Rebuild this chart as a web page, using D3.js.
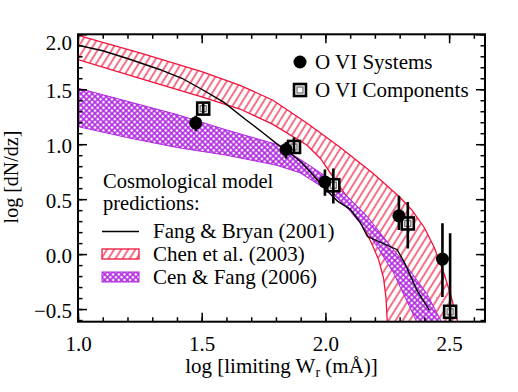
<!DOCTYPE html>
<html>
<head>
<meta charset="utf-8">
<script src="https://cdn.jsdelivr.net/npm/d3@7"></script>
<style>
  body { margin: 0; background: #fff; }
  text { font-family: "Liberation Serif", "Times New Roman", serif; fill: #000; }
</style>
</head>
<body>
<div id="chart"></div>
<script>
// Data
//-------------------------------------------------------
// O VI systems (filled circles)
var sysX  = [1.476, 1.841, 1.998, 2.297, 2.473];
var sysY  = [1.194, 0.952, 0.657, 0.348, -0.045];
var sysLo = [1.12, 0.87, 0.53, 0.22, -0.39];
var sysHi = [1.26, 1.02, 0.77, 0.53, 0.28];

// O VI components (open squares)
var compX  = [1.506, 1.873, 2.032, 2.333, 2.504];
var compY  = [1.324, 0.975, 0.627, 0.279, -0.525];
var compLo = [1.28, 0.92, 0.46, 0.05, -0.80];
var compHi = [1.37, 1.06, 0.78, 0.475, 0.19];

// Fang & Bryan (2001) curve
var fbX = [1.00, 1.10, 1.20, 1.33, 1.42, 1.50, 1.59, 1.68, 1.75, 1.80, 1.84, 1.90, 1.95, 2.00, 2.05, 2.10, 2.14, 2.17, 2.23, 2.29, 2.32, 2.37, 2.42];
var fbY = [1.90, 1.85, 1.78, 1.68, 1.60, 1.50, 1.38, 1.22, 1.10, 1.01, 0.95, 0.84, 0.72, 0.59, 0.48, 0.41, 0.29, 0.16, 0.10, 0.04, -0.08, -0.33, -0.51];

// Chen et al. (2003) band
var chenUpX = [1.00, 1.25, 1.50, 1.655, 1.788, 1.926, 2.059, 2.192, 2.30, 2.35, 2.40, 2.44, 2.48, 2.51, 2.535];
var chenUpY = [1.99, 1.83, 1.66, 1.536, 1.40, 1.19, 0.973, 0.736, 0.52, 0.40, 0.24, 0.06, -0.18, -0.40, -0.62];
var chenLoX = [1.00, 1.25, 1.50, 1.655, 1.788, 1.926, 1.98, 2.04, 2.10, 2.15, 2.19, 2.215, 2.235, 2.245, 2.25];
var chenLoY = [1.77, 1.60, 1.43, 1.32, 1.18, 0.99, 0.87, 0.67, 0.48, 0.27, 0.08, -0.05, -0.22, -0.40, -0.62];

// Cen & Fang (2006) band
var cenUpX = [1.00, 1.20, 1.40, 1.60, 1.80, 1.90, 2.00, 2.10, 2.17, 2.233, 2.33, 2.41, 2.47];
var cenUpY = [1.51, 1.39, 1.27, 1.13, 1.00, 0.86, 0.71, 0.50, 0.34, 0.16, -0.115, -0.36, -0.62];
var cenLoX = [1.00, 1.20, 1.40, 1.60, 1.80, 1.897, 2.03, 2.10, 2.17, 2.20, 2.275, 2.37];
var cenLoY = [1.16, 1.06, 0.97, 0.90, 0.81, 0.74, 0.55, 0.39, 0.20, 0.10, -0.17, -0.62];

// Ticks
var xMajor = [1.0, 1.5, 2.0, 2.5];
var yMajor = [-0.5, 0.0, 0.5, 1.0, 1.5, 2.0];

// Set up SVG
//-------------------------------------------------------
var svgWidth = 518;
var svgHeight = 392;
var margin = { top: 34.3, right: 33, bottom: 70.3, left: 78 };
var chartWidth = svgWidth - margin.left - margin.right;
var chartHeight = svgHeight - margin.top - margin.bottom;
var fontSize = "21px";

var svg = d3.select("#chart")
    .append("svg")
    .attr("width", svgWidth)
    .attr("height", svgHeight);

var defs = svg.append("defs");

defs.append("clipPath").attr("id", "clip")
    .append("rect")
    .attr("width", chartWidth)
    .attr("height", chartHeight);

var red = "#f0143c";
var purple = "#b026e0";

// red hatch
var hatch = defs.append("pattern")
    .attr("id", "hatch")
    .attr("patternUnits", "userSpaceOnUse")
    .attr("width", 6).attr("height", 10)
    .attr("patternTransform", "rotate(32)");
hatch.append("rect").attr("width", 6).attr("height", 10).attr("fill", "#fff");
hatch.append("line")
    .attr("x1", 1).attr("y1", 0).attr("x2", 1).attr("y2", 10)
    .attr("stroke", red).attr("stroke-width", 1.2);

// purple cross-hatch
var cross = defs.append("pattern")
    .attr("id", "cross")
    .attr("patternUnits", "userSpaceOnUse")
    .attr("width", 4).attr("height", 4)
    .attr("patternTransform", "rotate(45)");
cross.append("rect").attr("width", 4).attr("height", 4).attr("fill", purple);
cross.append("rect").attr("x", 0.8).attr("y", 0.8).attr("width", 2.4).attr("height", 2.4).attr("fill", "#fff");

var chartGroup = svg.append("g")
    .attr("transform", `translate(${margin.left}, ${margin.top})`);

// Scales
var xScale = d3.scaleLinear().domain([1.0, 2.645]).range([0, chartWidth]);
var yScale = d3.scaleLinear().domain([-0.615, 2.0]).range([chartHeight, 0]);

// Bands and curve
//-------------------------------------------------------
var plotArea = chartGroup.append("g").attr("clip-path", "url(#clip)");

function bandPoints(upX, upY, loX, loY) {
    var pts = upX.map((x, i) => [xScale(x), yScale(upY[i])]);
    for (var i = loX.length - 1; i >= 0; i--) {
        pts.push([xScale(loX[i]), yScale(loY[i])]);
    }
    return pts;
}

var bandLine = d3.line().curve(d3.curveLinearClosed);

plotArea.append("path")
    .attr("d", bandLine(bandPoints(chenUpX, chenUpY, chenLoX, chenLoY)))
    .attr("fill", "url(#hatch)")
    .attr("stroke", red)
    .attr("stroke-width", 1.3);

plotArea.append("path")
    .attr("d", bandLine(bandPoints(cenUpX, cenUpY, cenLoX, cenLoY)))
    .attr("fill", "url(#cross)")
    .attr("stroke", purple)
    .attr("stroke-width", 1);

var fbLine = d3.line()
    .x(d => xScale(d[0]))
    .y(d => yScale(d[1]));

plotArea.append("path")
    .attr("d", fbLine(fbX.map((x, i) => [x, fbY[i]])))
    .attr("fill", "none")
    .attr("stroke", "#000")
    .attr("stroke-width", 1.4);

// Error bars and markers
//-------------------------------------------------------
function drawSquare(g, cx, cy) {
    g.append("rect")
        .attr("x", cx - 6).attr("y", cy - 6)
        .attr("width", 12).attr("height", 12)
        .attr("fill", "#fff").attr("stroke", "#000").attr("stroke-width", 2.6);
    g.append("rect")
        .attr("x", cx - 3).attr("y", cy - 3)
        .attr("width", 6).attr("height", 6)
        .attr("fill", "#fff").attr("stroke", "#777").attr("stroke-width", 1.3);
}

compX.forEach(function(x, i) {
    drawSquare(plotArea, xScale(x), yScale(compY[i]));
});

var errGroup = plotArea.append("g");
function drawErrors(xs, los, his) {
    errGroup.selectAll(null).data(xs).enter()
        .append("line")
        .attr("x1", d => xScale(d)).attr("x2", d => xScale(d))
        .attr("y1", (d, i) => yScale(los[i]))
        .attr("y2", (d, i) => yScale(his[i]))
        .attr("stroke", "#000")
        .attr("stroke-width", 2.6);
}
drawErrors(sysX, sysLo, sysHi);
drawErrors(compX, compLo, compHi);

plotArea.selectAll("circle.sys").data(sysX).enter()
    .append("circle")
    .attr("class", "sys")
    .attr("cx", d => xScale(d))
    .attr("cy", (d, i) => yScale(sysY[i]))
    .attr("r", 6.5)
    .attr("fill", "#000");

// Axes (ticks inside on all four sides)
//-------------------------------------------------------
var xMinor = d3.range(10, 27).map(d => d / 10);
var yMinor = d3.range(-6, 21).map(d => d / 10);

function addAxis(axis, transform) {
    var g = chartGroup.append("g").attr("transform", transform).call(axis);
    g.select(".domain").remove();
    g.selectAll("line").attr("stroke", "#000").attr("stroke-width", 1.5);
    g.attr("font-family", null);
    g.selectAll("text").style("font-size", fontSize).attr("fill", "#000");
    return g;
}

addAxis(d3.axisBottom(xScale).tickValues(xMinor).tickSize(-4.5).tickFormat(""), `translate(0,${chartHeight})`);
addAxis(d3.axisTop(xScale).tickValues(xMinor).tickSize(-4.5).tickFormat(""), "translate(0,0)");
addAxis(d3.axisLeft(yScale).tickValues(yMinor).tickSize(-4.5).tickFormat(""), "translate(0,0)");
addAxis(d3.axisRight(yScale).tickValues(yMinor).tickSize(-4.5).tickFormat(""), `translate(${chartWidth},0)`);

addAxis(d3.axisBottom(xScale).tickValues(xMajor).tickSize(-9).tickPadding(14).tickFormat(d3.format(".1f")), `translate(0,${chartHeight})`);
addAxis(d3.axisTop(xScale).tickValues(xMajor).tickSize(-9).tickFormat(""), "translate(0,0)");
var yAxisG = addAxis(d3.axisLeft(yScale).tickValues(yMajor).tickSize(-9).tickPadding(6).tickFormat(d => d < 0 ? "\u2212" + d3.format(".1f")(-d) : d3.format(".1f")(d)), "translate(0,0)");
addAxis(d3.axisRight(yScale).tickValues(yMajor).tickSize(-9).tickFormat(""), `translate(${chartWidth},0)`);

yAxisG.selectAll("text").attr("dy", d => d === 2.0 ? "0.7em" : "0.4em");

chartGroup.append("rect")
    .attr("width", chartWidth)
    .attr("height", chartHeight)
    .attr("fill", "none")
    .attr("stroke", "#000")
    .attr("stroke-width", 2);

// Axis titles
//-------------------------------------------------------
var xTitle = chartGroup.append("text")
    .attr("x", chartWidth / 2)
    .attr("y", chartHeight + 51)
    .attr("text-anchor", "middle")
    .style("font-size", fontSize);
xTitle.append("tspan").text("log [limiting W");
xTitle.append("tspan").attr("dy", 4).style("font-size", "14px").text("r");
xTitle.append("tspan").attr("dy", -4).text(" (mÅ)]");

chartGroup.append("text")
    .attr("transform", "rotate(-90)")
    .attr("x", -chartHeight / 2 + 1)
    .attr("y", -60)
    .attr("text-anchor", "middle")
    .style("font-size", "20px")
    .text("log [dN/dz]");

// Legends
//-------------------------------------------------------
var legend = svg.append("g");

legend.append("circle").attr("cx", 300).attr("cy", 62).attr("r", 6.5).attr("fill", "#000");
legend.append("text").attr("x", 315).attr("y", 69).style("font-size", fontSize).text("O VI Systems");
drawSquare(legend, 300, 90);
legend.append("text").attr("x", 315).attr("y", 97).style("font-size", fontSize).text("O VI Components");

legend.append("text").attr("x", 103).attr("y", 188).style("font-size", "20.5px").text("Cosmological model");
legend.append("text").attr("x", 103).attr("y", 210).style("font-size", "20.5px").text("predictions:");

legend.append("line")
    .attr("x1", 102).attr("x2", 139).attr("y1", 231.5).attr("y2", 231.5)
    .attr("stroke", "#000").attr("stroke-width", 1.4);
legend.append("text").attr("x", 153).attr("y", 238).style("font-size", fontSize).text("Fang & Bryan (2001)");

legend.append("rect")
    .attr("x", 102).attr("y", 249).attr("width", 37).attr("height", 10)
    .attr("fill", "url(#hatch)").attr("stroke", red).attr("stroke-width", 1.3);
legend.append("text").attr("x", 153).attr("y", 261).style("font-size", fontSize).text("Chen et al. (2003)");

legend.append("rect")
    .attr("x", 102).attr("y", 272).attr("width", 37).attr("height", 10)
    .attr("fill", "url(#cross)").attr("stroke", purple).attr("stroke-width", 1);
legend.append("text").attr("x", 153).attr("y", 284).style("font-size", fontSize).text("Cen & Fang (2006)");
</script>
</body>
</html>
